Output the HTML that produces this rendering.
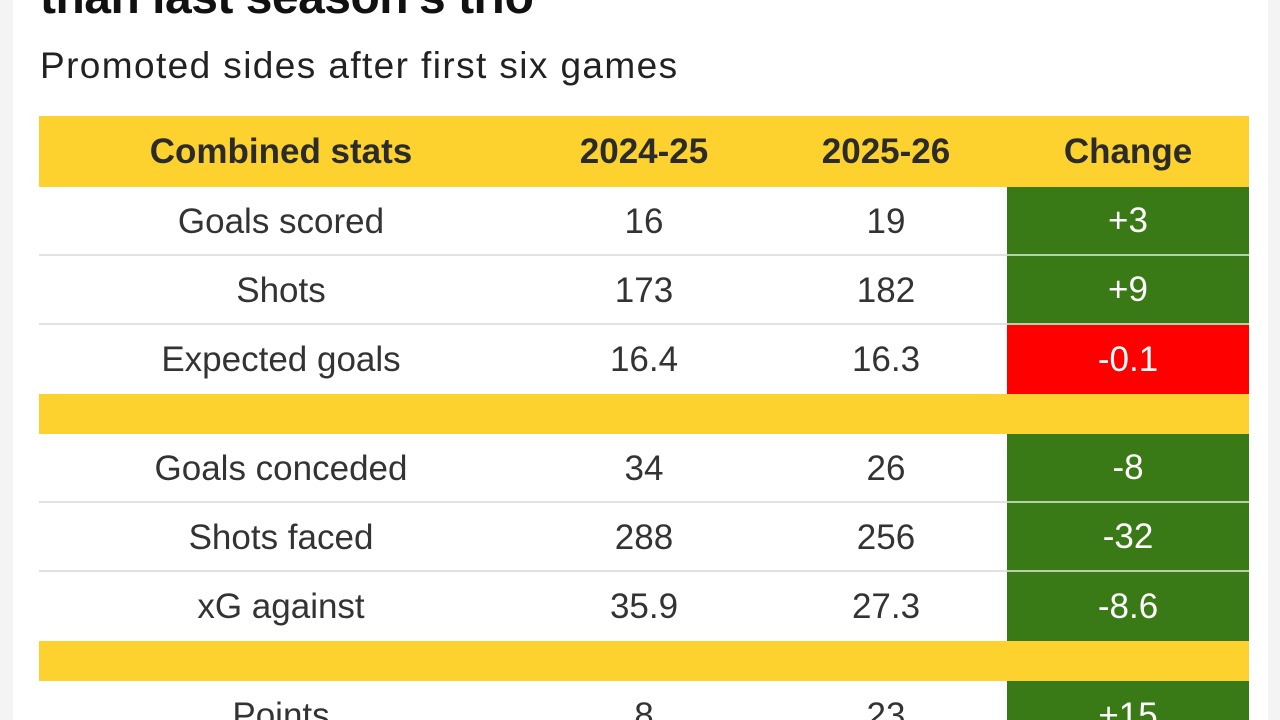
<!DOCTYPE html>
<html><head><meta charset="utf-8">
<style>
html,body{margin:0;padding:0;width:1280px;height:720px;overflow:hidden;background:#f4f4f4;font-family:"Liberation Sans",sans-serif}
#wrap{position:absolute;left:0;top:0;width:1280px;height:720px;overflow:hidden}
#page{position:absolute;left:13px;top:0;width:1255px;height:720px;background:#fff}
#title{position:absolute;left:40px;top:-30px;font-size:48px;font-weight:bold;color:#111;white-space:nowrap;letter-spacing:-0.5px}
#subtitle{position:absolute;left:40px;top:45px;font-size:37px;color:#222;white-space:nowrap;letter-spacing:1.4px}
.cell{position:absolute;display:flex;align-items:center;justify-content:center;font-size:35px;color:#333;box-sizing:border-box;white-space:nowrap}
.hd{font-weight:bold;color:#2b2b2b}
</style></head><body>
<div id="wrap">
<div id="page"></div>
<div id="title">than last season's trio</div>
<div id="subtitle">Promoted sides after first six games</div>
<div id="table"></div>
</div>
<script>
const headers = ["Combined stats","2024-25","2025-26","Change"];
const labels = ["Goals scored","Shots","Expected goals",null,"Goals conceded","Shots faced","xG against",null,"Points"];
const season1 = ["16","173","16.4",null,"34","288","35.9",null,"8"];
const season2 = ["19","182","16.3",null,"26","256","27.3",null,"23"];
const changes = ["+3","+9","-0.1",null,"-8","-32","-8.6",null,"+15"];
const good = [true,true,false,null,true,true,true,null,true];

const T = document.getElementById('table');
const colX = [39,523,765,1007,1249];
const YELLOW = '#fdd22f';
function mk(x,y,w,h,txt,name){
  const d=document.createElement('div');
  d.className='cell';
  d.style.left=x+'px';d.style.top=y+'px';d.style.width=w+'px';d.style.height=h+'px';
  if(txt!==null) d.textContent=txt;
  
  
  T.appendChild(d);return d;
}
const hb=mk(39,116,1210,71,null,'header-row');
hb.style.background=YELLOW;
headers.forEach((h,i)=>{
  const c=mk(colX[i],116,colX[i+1]-colX[i],71,h,'header-cell');
  c.classList.add('hd');
});
let y=187;
labels.forEach((lab,r)=>{
  if(lab===null){
    const s=mk(39,y,1210,40,null,'section-spacer');
    s.style.background=YELLOW;
    y+=40;return;
  }
  const h=69;
  const line=mk(39,y,968,h,null,'row-background');
  const next=labels[r+1];
  if(next!==undefined && next!==null) line.style.borderBottom='2px solid #e2e2e2';
  mk(colX[0],y,colX[1]-colX[0],h,lab,'row-label');
  mk(colX[1],y,colX[2]-colX[1],h,season1[r],'value-2024-25');
  mk(colX[2],y,colX[3]-colX[2],h,season2[r],'value-2025-26');
  const c=mk(colX[3],y,colX[4]-colX[3],h,changes[r],'change-cell');
  c.style.background=good[r]?'#3a7a16':'#ff0000';
  c.style.color='#fff';
  if(next!==undefined && next!==null) c.style.borderBottom='2px solid #b8d0a8';
  y+=h;
});
</script>
</body></html>
